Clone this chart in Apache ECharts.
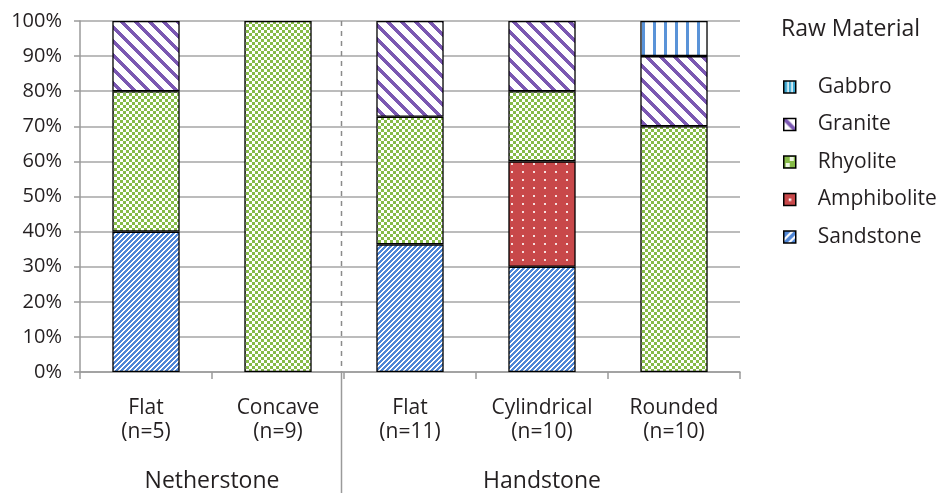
<!DOCTYPE html>
<html>
<head>
<meta charset="utf-8">
<script src="https://cdn.jsdelivr.net/npm/echarts@6/dist/echarts.min.js"></script>
<style>
  html, body { margin: 0; padding: 0; background: #fff; }
  #chart { width: 946px; height: 493px; }
</style>
</head>
<body>
<div id="chart"></div>
<script>
// Grinding stone shapes and their sample sizes
const shapes = ['Flat', 'Concave', 'Flat', 'Cylindrical', 'Rounded'];
const sampleSizes = [5, 9, 11, 10, 10];
const groupNames = ['Netherstone', 'Handstone'];
const groupSpans = [2, 3];

// Counts of each raw material per shape (stacked bottom to top)
const sandstone   = [2, 0, 4, 3, 0];
const amphibolite = [0, 0, 0, 3, 0];
const rhyolite    = [2, 9, 4, 2, 7];
const granite     = [1, 0, 3, 2, 2];
const gabbro      = [0, 0, 0, 0, 1];

const materialNames = ['Sandstone', 'Amphibolite', 'Rhyolite', 'Granite', 'Gabbro'];
const materialCounts = [sandstone, amphibolite, rhyolite, granite, gabbro];
const legendOrder = ['Gabbro', 'Granite', 'Rhyolite', 'Amphibolite', 'Sandstone'];

const yMin = 0, yMax = 100, yStep = 10;

const FONT = 'Open Sans';
const TEXT = '#231f20';

// ---- fill patterns -------------------------------------------------------
function tile(w, h, paint) {
  const c = document.createElement('canvas');
  c.width = w; c.height = h;
  const ctx = c.getContext('2d');
  ctx.fillStyle = '#ffffff';
  ctx.fillRect(0, 0, w, h);
  for (let y = 0; y < h; y++) {
    for (let x = 0; x < w; x++) {
      const col = paint(x, y);
      if (col) { ctx.fillStyle = col; ctx.fillRect(x, y, 1, 1); }
    }
  }
  return c;
}
const BLUE = '#4f86d6', PURPLE = '#7b58b2', GREEN = '#86bb48', RED = '#c8484a', GAB = '#5a93d8';

const patterns = {
  Sandstone: tile(5, 5, (x, y) => ((x + y) % 5 < 3 ? BLUE : null)),
  Amphibolite: tile(11, 8, (x, y) => ((x >= 5 && x <= 6 && y >= 3 && y <= 4) ? '#f6dede' : RED)),
  Rhyolite: tile(6, 6, (x, y) => ((((x / 3) | 0) + ((y / 3) | 0)) % 2 === 0 ? GREEN : null)),
  Granite: tile(14, 14, (x, y) => (((x - y + 140) % 14) < 5 ? PURPLE : null)),
  Gabbro: tile(11, 1, (x) => ((x >= 4 && x <= 6) ? GAB : null))
};

// Small legend swatches
function swatch(draw) {
  const c = document.createElement('canvas');
  c.width = 12; c.height = 12;
  const ctx = c.getContext('2d');
  ctx.fillStyle = '#fff';
  ctx.fillRect(0, 0, 12, 12);
  draw(ctx);
  return c;
}
const swatches = {
  Gabbro: swatch(ctx => {
    ctx.fillStyle = '#3aa6cf'; ctx.fillRect(0, 0, 12, 12);
    ctx.fillStyle = '#fff'; ctx.fillRect(3.5, 0, 1.5, 12); ctx.fillRect(7.5, 0, 1.5, 12);
  }),
  Granite: swatch(ctx => {
    ctx.strokeStyle = PURPLE; ctx.lineWidth = 4;
    ctx.beginPath(); ctx.moveTo(-1, -1); ctx.lineTo(13, 13); ctx.stroke();
  }),
  Rhyolite: swatch(ctx => {
    ctx.fillStyle = GREEN; ctx.fillRect(0, 0, 12, 12);
    ctx.fillStyle = '#eef6e4'; ctx.fillRect(6, 1, 4, 4); ctx.fillRect(2, 7, 4, 4);
  }),
  Amphibolite: swatch(ctx => {
    ctx.fillStyle = RED; ctx.fillRect(0, 0, 12, 12);
    ctx.fillStyle = '#fff'; ctx.fillRect(5, 5, 2.5, 2.5);
  }),
  Sandstone: swatch(ctx => {
    ctx.fillStyle = BLUE; ctx.fillRect(0, 0, 12, 12);
    ctx.strokeStyle = '#fff'; ctx.lineWidth = 2.2;
    ctx.beginPath(); ctx.moveTo(-1, 10); ctx.lineTo(10, -1); ctx.stroke();
    ctx.beginPath(); ctx.moveTo(3, 14); ctx.lineTo(14, 3); ctx.stroke();
  })
};

// ---- data ----------------------------------------------------------------
const categoryLabels = shapes.map((s, i) => s + '\n(n=' + sampleSizes[i] + ')');

const series = materialNames.map((name, k) => ({
  name: name,
  type: 'bar',
  stack: 'material',
  barWidth: '51%',
  data: materialCounts[k].map((c, i) => (c > 0 ? c / sampleSizes[i] * 100 : null)),
  itemStyle: {
    color: { image: patterns[name], repeat: 'repeat' },
    borderColor: '#000',
    borderWidth: 1.3
  },
  emphasis: { disabled: true }
}));

const chart = echarts.init(document.getElementById('chart'), null, { renderer: 'canvas' });

chart.setOption({
  animation: false,
  textStyle: { fontFamily: FONT },
  title: {
    text: 'Raw Material',
    left: 776, top: 13,
    textStyle: { fontFamily: FONT, fontSize: 23, fontWeight: 'normal', color: TEXT }
  },
  legend: {
    orient: 'vertical',
    left: 778, top: 70,
    icon: 'rect',
    itemWidth: 12, itemHeight: 12,
    itemGap: 13.5,
    selectedMode: false,
    textStyle: { fontFamily: FONT, fontSize: 21, color: TEXT, lineHeight: 24, padding: [0, 0, 0, 17] },
    data: legendOrder.map(n => ({
      name: n,
      itemStyle: { color: { image: swatches[n], repeat: 'no-repeat' }, borderColor: '#000', borderWidth: 1.5 }
    }))
  },
  grid: { left: 80, right: 206, top: 21, bottom: 121, containLabel: false },
  xAxis: {
    type: 'category',
    data: categoryLabels,
    axisLine: { lineStyle: { color: '#9a9a9a', width: 1.5 } },
    axisTick: { show: true, alignWithLabel: false, length: 7, lineStyle: { color: '#9a9a9a', width: 1.5 } },
    axisLabel: { fontFamily: FONT, fontSize: 21, color: TEXT, lineHeight: 24, margin: 24 }
  },
  yAxis: {
    type: 'value',
    min: yMin, max: yMax, interval: yStep,
    axisLine: { show: true, lineStyle: { color: '#9a9a9a', width: 1.5 } },
    axisTick: { show: true, length: 6, lineStyle: { color: '#9a9a9a', width: 1.5 } },
    splitLine: { lineStyle: { color: '#a6a6a6', width: 1.5 } },
    axisLabel: { fontFamily: FONT, fontSize: 20, color: TEXT, margin: 18, formatter: '{value}%' }
  },
  series: series
});

// Group separators and group names, placed from the axis scales
(function addGroups() {
  const px = i => chart.convertToPixel({ xAxisIndex: 0 }, i);
  const yTop = chart.convertToPixel({ yAxisIndex: 0 }, yMax);
  const yBase = chart.convertToPixel({ yAxisIndex: 0 }, yMin);
  const half = (px(1) - px(0)) / 2;
  const elements = [];
  let start = 0;
  groupNames.forEach((g, gi) => {
    const end = start + groupSpans[gi] - 1;
    const cx = (px(start) + px(end)) / 2;
    elements.push({
      type: 'text', x: cx, y: 481,
      style: { text: g, fontFamily: FONT, fontSize: 23, fill: TEXT, align: 'center', verticalAlign: 'middle' },
      silent: true
    });
    if (gi < groupNames.length - 1) {
      const bx = Math.round(px(end) + half) - 2.5;
      elements.push({
        type: 'line', shape: { x1: bx, y1: yTop, x2: bx, y2: yBase },
        style: { stroke: '#8a8a8a', lineWidth: 1.5, lineDash: [5, 5] }, silent: true
      });
      elements.push({
        type: 'line', shape: { x1: bx, y1: yBase, x2: bx, y2: 493 },
        style: { stroke: '#9a9a9a', lineWidth: 1.5 }, silent: true
      });
    }
    start = end + 1;
  });
  chart.setOption({ graphic: elements });
})();
</script>
</body>
</html>
